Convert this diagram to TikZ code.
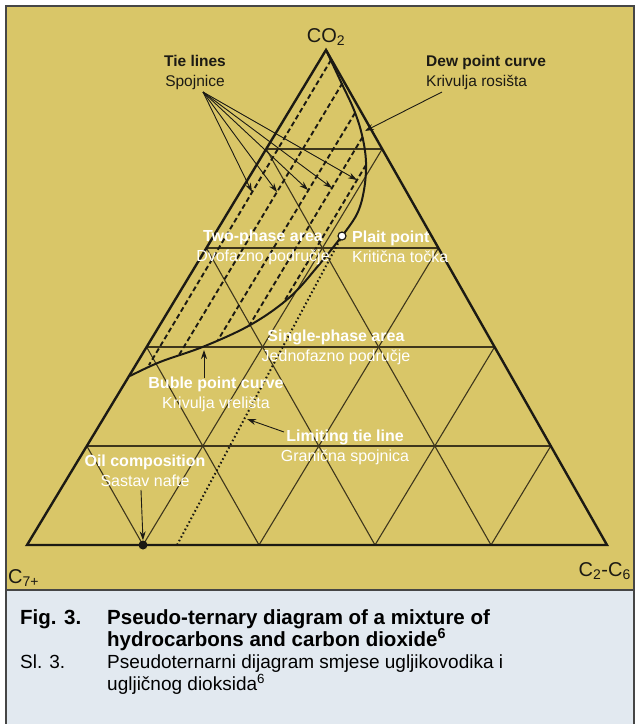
\documentclass[tikz,border=0pt]{standalone}
\usepackage{fontspec}
\setmainfont{Liberation Sans}
\usetikzlibrary{arrows.meta,calc}
\definecolor{panel}{RGB}{217,198,104}
\definecolor{capbg}{RGB}{226,233,240}
\definecolor{ink}{RGB}{28,26,20}
\definecolor{gridc}{RGB}{62,54,28}
\definecolor{framec}{RGB}{70,70,70}
\begin{document}
\begin{tikzpicture}[x=1pt,y=-1pt,
  outline/.style={ink,line width=2.4pt,line join=miter},
  gridline/.style={gridc,line width=1.1pt},
  curve/.style={ink,line width=2pt},
  tieline/.style={ink,line width=1.9pt,dash pattern=on 5pt off 3pt},
  limline/.style={ink,line width=2pt,dash pattern=on 1.6pt off 2.6pt},
  pointer/.style={ink,line width=0.9pt,-{Stealth[length=9pt,width=6pt]}},
  darklbl/.style={text=ink,font=\fontsize{15.5}{20}\selectfont,inner sep=0pt},
  whitelbl/.style={text=white,font=\fontsize{16}{20}\selectfont,inner sep=0pt},
  vertexlbl/.style={text=ink,font=\fontsize{20}{22}\selectfont,inner sep=0pt},
  captxt/.style={text=black,font=\fontsize{19}{22}\selectfont,inner sep=0pt,anchor=base west},
  capbold/.style={captxt,font=\fontsize{20.5}{22}\selectfont\bfseries}]
\useasboundingbox (0,0) rectangle (639,724);
\fill[white] (0,0) rectangle (639,724);
\fill[panel] (6,6) rectangle (634,590);
\fill[capbg] (6,590) rectangle (634,724);
\draw[framec,line width=1.4pt] (6,724) -- (6,6) -- (634,6) -- (634,724);
\draw[framec,line width=1.4pt] (6,590) -- (634,590);

% triangle vertices
\coordinate (A) at (326,50);
\coordinate (L) at (27,545);
\coordinate (R) at (607,545);

% grid points P(r,m)
\foreach \r in {0,...,5}{
  \pgfmathtruncatemacro{\mmax}{5-\r}
  \foreach \m in {0,...,\mmax}{
    \coordinate (P\r\m) at ({27+59.8*\r+116*\m},{545-99*\r});
  }
}
% horizontal grid lines
\foreach \r in {1,...,4}{
  \pgfmathtruncatemacro{\e}{5-\r}
  \draw[gridline] (P\r0) -- (P\r\e);
}
% lines parallel to the left edge
\foreach \m in {1,...,4}{
  \pgfmathtruncatemacro{\e}{5-\m}
  \draw[gridline] (P0\m) -- (P\e\m);
}
% lines parallel to the right edge
\foreach \c in {1,...,4}{
  \draw[gridline] (P0\c) -- (P\c0);
}

% tie lines
\draw[tieline] (331,60) -- (149,365);
\draw[tieline] (342.5,83) -- (179,355);
\draw[tieline] (355,113) -- (218,340);
\draw[tieline] (362.6,137) -- (249,326);
\draw[tieline] (366,165) -- (285,300);
% limiting tie line
\coordinate (plait) at (342,236);
\coordinate (limend) at (177,545);
\draw[limline] (plait) -- (limend);

% dew point and bubble point curves
\draw[curve] plot[smooth,tension=0.6] coordinates {(326,50) (341,82) (354,110) (362,135) (366,162) (364,190) (357,214) (342,236)};
\draw[curve] plot[smooth,tension=0.6] coordinates {(342,236) (318,266) (290,297) (252,324) (205,346) (160,362) (130,376)};

% triangle outline
\draw[outline] (A) -- (L) -- (R) -- cycle;

% plait point and oil composition point
\node[circle,draw=ink,fill=white,line width=1.2pt,inner sep=0pt,minimum size=8pt] (pp) at (plait) {};
\node[circle,fill=ink,inner sep=0pt,minimum size=9pt] (oil) at (P01) {};

% labels
\node[darklbl,align=center] (tie) at (195,72) {\textbf{Tie lines}\\Spojnice};
\node[darklbl,align=left,anchor=west] (dew) at (426,72) {\textbf{Dew point curve}\\Krivulja rosišta};
\node[whitelbl,align=center] (two) at (263,247) {\textbf{Two-phase area}\\Dvofazno područje};
\node[whitelbl,align=left,anchor=west] (plaitlbl) at (352,247) {\textbf{Plait point}\\Kritična točka};
\node[whitelbl,align=center] (single) at (336,347) {\textbf{Single-phase area}\\Jednofazno područje};
\node[whitelbl,align=center] (buble) at (216,394) {\textbf{Buble point curve}\\Krivulja vrelišta};
\node[whitelbl,align=center] (limit) at (345,447) {\textbf{Limiting tie line}\\Granična spojnica};
\node[whitelbl,align=center] (oillbl) at (145,471) {\textbf{Oil composition}\\Sastav nafte};

% pointers
\coordinate (fan) at (203,92);
\coordinate (t1) at (252,192);
\coordinate (t2) at (277,192);
\coordinate (t3) at (308,190);
\coordinate (t4) at (332,188);
\coordinate (t5) at (357,180);
\foreach \t in {t1,t2,t3,t4,t5}{\draw[pointer] (fan) -- (\t);}
\coordinate (dewstart) at (442,92);
\coordinate (dewtip) at (365,131);
\draw[pointer] (dewstart) -- (dewtip);
\coordinate (bubstart) at (204,378);
\coordinate (bubtip) at (204,350);
\draw[pointer] (bubstart) -- (bubtip);
\coordinate (limstart) at (284,432);
\coordinate (limtip) at (247,419);
\draw[pointer] (limstart) -- (limtip);
\coordinate (oilstart) at (141,490);
\draw[pointer] (oilstart) -- (oil.north);

% vertex labels
\node[vertexlbl] (co2) at (326,37) {CO\textsubscript{2}};
\node[vertexlbl,anchor=west] (c7) at (8,578) {C\textsubscript{7+}};
\node[vertexlbl,anchor=east] (c2) at (631,571) {C\textsubscript{2}-C\textsubscript{6}};

% caption
\node[capbold] (f1) at (20,624) {Fig. 3.};
\node[capbold] (f2) at (107,624) {Pseudo-ternary diagram of a mixture of};
\node[capbold] (f3) at (107,646) {hydrocarbons and carbon dioxide\textsuperscript{6}};
\node[captxt] (s1) at (20,668) {Sl. 3.};
\node[captxt] (s2) at (107,668) {Pseudoternarni dijagram smjese ugljikovodika i};
\node[captxt] (s3) at (107,690) {ugljičnog dioksida\textsuperscript{6}};
\end{tikzpicture}
\end{document}
